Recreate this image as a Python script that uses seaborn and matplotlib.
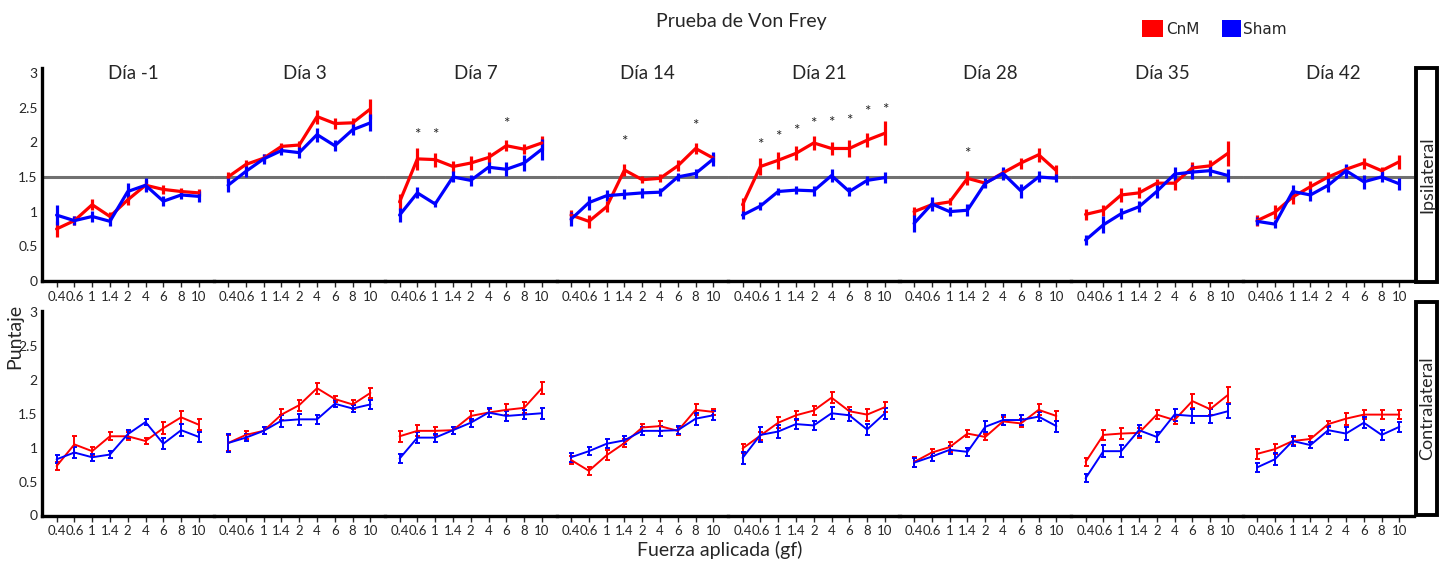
import numpy as np
import pandas as pd
import matplotlib
matplotlib.use("Agg")
import matplotlib.pyplot as plt
from matplotlib.patches import Rectangle
import seaborn as sns

# ---------------- data ----------------
days = ["Día -1", "Día 3", "Día 7", "Día 14", "Día 21", "Día 28", "Día 35", "Día 42"]
forces = ["0.4", "0.6", "1", "1.4", "2", "4", "6", "8", "10"]

ipsi_cnm = [
    [0.75, 0.87, 1.10, 0.93, 1.17, 1.38, 1.32, 1.29, 1.27],
    [1.50, 1.68, 1.77, 1.94, 1.96, 2.37, 2.27, 2.28, 2.48],
    [1.14, 1.76, 1.75, 1.65, 1.70, 1.78, 1.95, 1.90, 1.99],
    [0.95, 0.86, 1.07, 1.60, 1.46, 1.48, 1.66, 1.91, 1.77],
    [1.10, 1.65, 1.74, 1.84, 1.99, 1.91, 1.91, 2.03, 2.13],
    [1.00, 1.10, 1.14, 1.48, 1.41, 1.56, 1.70, 1.82, 1.59],
    [0.96, 1.02, 1.24, 1.27, 1.41, 1.41, 1.63, 1.66, 1.84],
    [0.87, 0.99, 1.21, 1.36, 1.50, 1.61, 1.70, 1.59, 1.72],
]
ipsi_cnm_err = [
    [0.12, 0.07, 0.08, 0.06, 0.07, 0.08, 0.06, 0.05, 0.05],
    [0.07, 0.06, 0.06, 0.05, 0.06, 0.10, 0.08, 0.07, 0.15],
    [0.12, 0.16, 0.10, 0.08, 0.10, 0.08, 0.08, 0.07, 0.10],
    [0.08, 0.09, 0.08, 0.09, 0.05, 0.06, 0.08, 0.08, 0.06],
    [0.10, 0.12, 0.12, 0.10, 0.10, 0.10, 0.12, 0.10, 0.17],
    [0.06, 0.05, 0.05, 0.10, 0.05, 0.05, 0.08, 0.10, 0.08],
    [0.08, 0.08, 0.10, 0.08, 0.06, 0.10, 0.08, 0.08, 0.18],
    [0.08, 0.10, 0.10, 0.08, 0.07, 0.06, 0.08, 0.06, 0.10],
]
ipsi_sham = [
    [0.95, 0.87, 0.93, 0.86, 1.29, 1.38, 1.15, 1.24, 1.22],
    [1.38, 1.58, 1.76, 1.88, 1.85, 2.11, 1.95, 2.18, 2.28],
    [0.95, 1.27, 1.11, 1.50, 1.45, 1.64, 1.61, 1.70, 1.90],
    [0.89, 1.13, 1.23, 1.25, 1.27, 1.28, 1.50, 1.55, 1.76],
    [0.95, 1.08, 1.29, 1.31, 1.30, 1.52, 1.29, 1.45, 1.49],
    [0.83, 1.11, 1.00, 1.02, 1.41, 1.55, 1.30, 1.50, 1.48],
    [0.59, 0.81, 0.97, 1.07, 1.29, 1.54, 1.57, 1.59, 1.52],
    [0.86, 0.82, 1.29, 1.24, 1.38, 1.59, 1.43, 1.50, 1.40],
]
ipsi_sham_err = [
    [0.15, 0.07, 0.08, 0.07, 0.12, 0.10, 0.07, 0.06, 0.08],
    [0.10, 0.08, 0.07, 0.07, 0.08, 0.10, 0.08, 0.08, 0.12],
    [0.10, 0.08, 0.05, 0.08, 0.08, 0.08, 0.10, 0.12, 0.15],
    [0.10, 0.10, 0.08, 0.07, 0.07, 0.06, 0.06, 0.07, 0.10],
    [0.06, 0.06, 0.05, 0.06, 0.07, 0.10, 0.06, 0.07, 0.08],
    [0.12, 0.10, 0.07, 0.09, 0.07, 0.10, 0.10, 0.08, 0.06],
    [0.07, 0.12, 0.08, 0.08, 0.10, 0.10, 0.10, 0.08, 0.10],
    [0.06, 0.06, 0.10, 0.08, 0.10, 0.10, 0.10, 0.08, 0.09],
]
contra_cnm = [
    [0.73, 1.05, 0.95, 1.17, 1.17, 1.10, 1.29, 1.45, 1.34],
    [1.07, 1.19, 1.25, 1.49, 1.63, 1.88, 1.72, 1.64, 1.81],
    [1.17, 1.25, 1.25, 1.26, 1.47, 1.52, 1.56, 1.59, 1.88],
    [0.82, 0.66, 0.89, 1.07, 1.30, 1.32, 1.25, 1.56, 1.53],
    [0.99, 1.18, 1.37, 1.48, 1.55, 1.74, 1.54, 1.49, 1.60],
    [0.79, 0.93, 1.01, 1.21, 1.16, 1.39, 1.36, 1.56, 1.47],
    [0.79, 1.19, 1.21, 1.22, 1.49, 1.41, 1.69, 1.57, 1.78],
    [0.91, 0.98, 1.10, 1.13, 1.35, 1.43, 1.49, 1.49, 1.49],
]
contra_cnm_err = [
    [0.06, 0.12, 0.06, 0.06, 0.06, 0.04, 0.09, 0.10, 0.08],
    [0.12, 0.06, 0.05, 0.08, 0.08, 0.08, 0.05, 0.06, 0.08],
    [0.08, 0.08, 0.06, 0.05, 0.07, 0.06, 0.08, 0.08, 0.09],
    [0.06, 0.06, 0.07, 0.06, 0.05, 0.07, 0.06, 0.08, 0.05],
    [0.07, 0.06, 0.08, 0.07, 0.07, 0.08, 0.06, 0.09, 0.07],
    [0.07, 0.05, 0.07, 0.05, 0.05, 0.06, 0.06, 0.08, 0.07],
    [0.06, 0.08, 0.08, 0.07, 0.07, 0.06, 0.10, 0.09, 0.12],
    [0.07, 0.07, 0.06, 0.05, 0.05, 0.09, 0.07, 0.07, 0.07],
]
contra_sham = [
    [0.83, 0.93, 0.86, 0.90, 1.20, 1.38, 1.06, 1.26, 1.16],
    [1.07, 1.15, 1.25, 1.40, 1.42, 1.42, 1.65, 1.58, 1.64],
    [0.84, 1.15, 1.15, 1.26, 1.37, 1.52, 1.47, 1.49, 1.51],
    [0.86, 0.95, 1.06, 1.11, 1.25, 1.25, 1.26, 1.43, 1.48],
    [0.85, 1.19, 1.24, 1.35, 1.33, 1.51, 1.48, 1.27, 1.51],
    [0.78, 0.87, 0.97, 0.94, 1.31, 1.41, 1.41, 1.46, 1.32],
    [0.55, 0.95, 0.95, 1.26, 1.16, 1.49, 1.47, 1.47, 1.54],
    [0.71, 0.83, 1.10, 1.04, 1.26, 1.21, 1.37, 1.19, 1.31],
]
contra_sham_err = [
    [0.06, 0.08, 0.05, 0.05, 0.06, 0.04, 0.08, 0.09, 0.07],
    [0.13, 0.05, 0.05, 0.09, 0.08, 0.07, 0.05, 0.05, 0.07],
    [0.07, 0.08, 0.06, 0.05, 0.06, 0.07, 0.07, 0.07, 0.08],
    [0.07, 0.06, 0.07, 0.06, 0.06, 0.07, 0.06, 0.09, 0.07],
    [0.09, 0.11, 0.09, 0.07, 0.07, 0.09, 0.08, 0.08, 0.08],
    [0.07, 0.06, 0.06, 0.06, 0.08, 0.07, 0.07, 0.07, 0.08],
    [0.06, 0.09, 0.09, 0.08, 0.08, 0.09, 0.10, 0.10, 0.10],
    [0.07, 0.09, 0.07, 0.05, 0.06, 0.09, 0.08, 0.08, 0.07],
]
# significance stars: (day index, force index, y)
star_day = [2, 2, 2, 3, 3, 4, 4, 4, 4, 4, 4, 4, 4, 5]
star_force = [1, 2, 6, 3, 7, 1, 2, 3, 4, 5, 6, 7, 8, 3]
star_y = [2.10, 2.10, 2.27, 2.00, 2.24, 1.96, 2.07, 2.16, 2.27, 2.28, 2.31, 2.43, 2.46, 1.83]

groups = ["CnM", "Sham"]
colors = {"CnM": "#ff0000", "Sham": "#0000ff"}

# ---------------- figure ----------------
sns.set_style("white")
plt.rcParams["font.family"] = ["Lato", "DejaVu Sans"]

W, H = 1448, 565
fig = plt.figure(figsize=(W / 100, H / 100), dpi=100)

def fx(px):
    return px / W

def fy(py):
    return 1 - py / H

left_px, right_px = 42, 1414
pw = (right_px - left_px) / 8
rows = [
    dict(top=68, bot=281, ylim=3.07, cnm=ipsi_cnm, cnm_e=ipsi_cnm_err, sham=ipsi_sham,
         sham_e=ipsi_sham_err, lw=2.3, cap=0, hline=True, titles=True),
    dict(top=311, bot=515.5, ylim=3.02, cnm=contra_cnm, cnm_e=contra_cnm_err, sham=contra_sham,
         sham_e=contra_sham_err, lw=1.4, cap=1.8, hline=False, titles=False),
]

xs = np.arange(len(forces))
for r in rows:
    for d in range(len(days)):
        ax = fig.add_axes([fx(left_px + d * pw), fy(r["bot"]), fx(pw), fy(r["top"]) - fy(r["bot"])])
        ax.patch.set_alpha(0)
        df = pd.DataFrame({
            "x": np.concatenate([xs, xs]),
            "y": np.concatenate([r["cnm"][d], r["sham"][d]]),
            "err": np.concatenate([r["cnm_e"][d], r["sham_e"][d]]),
            "g": ["CnM"] * len(xs) + ["Sham"] * len(xs),
        })
        if r["hline"]:
            ax.axhline(1.5, color="#707070", lw=2.2, zorder=1)
        for g in groups:
            sub = df[df.g == g]
            ax.errorbar(sub.x, sub.y, yerr=sub.err, fmt="none", ecolor=colors[g],
                        elinewidth=r["lw"], capsize=r["cap"], capthick=1.4, zorder=3)
        sns.lineplot(data=df, x="x", y="y", hue="g", palette=colors, lw=r["lw"],
                     legend=False, ax=ax, zorder=4)
        ax.set_xlim(-0.82, 8.82)
        ax.set_ylim(0, r["ylim"])
        ax.set_xticks(xs)
        ax.set_xticklabels(forces, fontsize=9.5)
        ax.tick_params(axis="x", length=4, width=1, pad=3, direction="out", bottom=True)
        ax.set_xlabel("")
        ax.set_ylabel("")
        for s in ["top", "right"]:
            ax.spines[s].set_visible(False)
        ax.spines["bottom"].set_linewidth(2.4)
        ax.spines["bottom"].set_color("black")
        if d == 0:
            ax.spines["left"].set_linewidth(2.4)
            ax.spines["left"].set_color("black")
            ax.set_yticks([0, 0.5, 1, 1.5, 2, 2.5, 3])
            ax.set_yticklabels(["0", "0.5", "1", "1.5", "2", "2.5", "3"], fontsize=10)
            ax.tick_params(axis="y", length=0, pad=3, left=True)
        else:
            ax.spines["left"].set_visible(False)
            ax.set_yticks([])
        if r["titles"]:
            ax.text(4.3, 2.99, days[d], ha="center", va="center", fontsize=13.5, clip_on=False)
            for sd, sf, sy in zip(star_day, star_force, star_y):
                if sd == d:
                    ax.text(sf, sy, "*", ha="center", va="center", fontsize=11, color="#222222")

# right side boxes
for (t, b, label) in [(68, 282, "Ipsilateral"), (302, 515, "Contralateral")]:
    fig.add_artist(Rectangle((fx(1416), fy(b)), fx(1437) - fx(1416), fy(t) - fy(b),
                             transform=fig.transFigure, fill=False, lw=2.8, ec="black"))
    fig.text(fx(1427), fy((t + b) / 2), label, rotation=90, ha="center", va="center", fontsize=13)

# titles and labels
fig.text(fx(741), fy(21), "Prueba de Von Frey", ha="center", va="center", fontsize=14)
fig.text(fx(720), fy(550), "Fuerza aplicada (gf)", ha="center", va="center", fontsize=14)
fig.text(fx(15), fy(336), "Puntaje", rotation=90, ha="center", va="center", fontsize=14)

# legend
for (x0, w, g, tx) in [(1142, 21, "CnM", 1166), (1222, 19, "Sham", 1243)]:
    fig.add_artist(Rectangle((fx(x0), fy(37)), fx(w), fy(20) - fy(37),
                             transform=fig.transFigure, color=colors[g], lw=0))
    fig.text(fx(tx), fy(29), g, ha="left", va="center", fontsize=11,
             family=["Liberation Sans Narrow", "DejaVu Sans"])

fig.savefig("out.png", dpi=100)
